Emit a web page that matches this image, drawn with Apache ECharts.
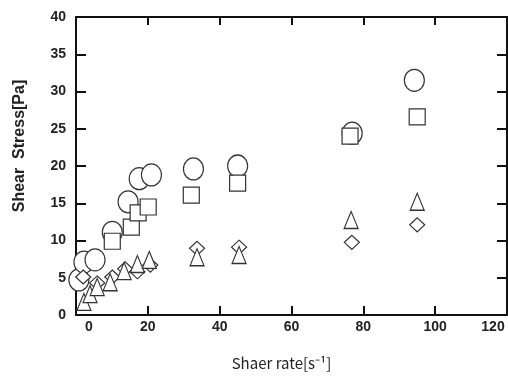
<!DOCTYPE html>
<html>
<head>
<meta charset="UTF-8">
<title>shear</title>
<script src="https://cdn.jsdelivr.net/npm/echarts@6/dist/echarts.min.js"></script>
<style>
  html, body { margin: 0; padding: 0; background: #fff; }
  #main { width: 508px; height: 377px; }
</style>
</head>
<body>
<div id="main"></div>
<script type="text/javascript">
    // [shear rate, shear stress]
    var circles = [[0.8, 4.7], [2.2, 7.1], [5.3, 7.4], [10.1, 11.1], [14.5, 15.2], [17.6, 18.3],
        [21.0, 18.8], [32.7, 19.6], [45.0, 20.0], [76.9, 24.4], [94.2, 31.5]];
    var squares = [[10.1, 9.9], [15.4, 11.8], [17.3, 13.7], [20.1, 14.5], [32.1, 16.1],
        [45.0, 17.7], [76.3, 24.0], [95.0, 26.6]];
    var diamonds = [[2.0, 5.1], [5.9, 4.3], [10.1, 5.1], [13.7, 6.2], [17.1, 5.8], [20.7, 6.7],
        [33.7, 8.95], [45.4, 9.1], [76.8, 9.75], [95.0, 12.1]];
    var triangles = [[2.2, 1.75], [3.9, 2.8], [5.9, 3.75], [9.5, 4.4], [13.4, 5.9], [17.1, 6.85],
        [20.4, 7.4], [33.7, 7.75], [45.4, 8.05], [76.6, 12.75], [95.0, 15.2]];

    var xTicks = [0, 20, 40, 60, 80, 100, 120];
    var yTicks = [0, 5, 10, 15, 20, 25, 30, 35, 40];

    var myChart = echarts.init(document.getElementById('main'));

    var lineStyle = {color: '#111', width: 2};
    var labelFont = {fontFamily: 'Liberation Sans', fontSize: 14, fontWeight: 'bold', color: '#222'};

    function marker(data, symbol, size) {
        return {
            type: 'scatter',
            data: data,
            symbol: symbol,
            symbolSize: size,
            itemStyle: {color: '#fff', borderColor: '#333', borderWidth: 1.2, opacity: 1}
        };
    }

    function frameAxis(pos, len) {
        // mirrored axis on the top / right, ticks pointing in, no labels
        return {
            type: 'value',
            position: pos,
            axisLine: {show: true, onZero: false, lineStyle: lineStyle},
            axisTick: {show: true, inside: true, length: len, lineStyle: lineStyle},
            axisLabel: {show: false},
            splitLine: {show: false}
        };
    }

    var xTop = frameAxis('top', 8);
    xTop.min = xTicks[0]; xTop.max = xTicks[xTicks.length - 1]; xTop.interval = 20;
    var yRight = frameAxis('right', 10);
    yRight.min = yTicks[0]; yRight.max = yTicks[yTicks.length - 1]; yRight.interval = 5;

    option = {
        backgroundColor: '#fff',
        animation: false,
        grid: {left: 76, right: 1, top: 17, bottom: 62},
        xAxis: [{
            type: 'value',
            min: xTicks[0],
            max: xTicks[xTicks.length - 1],
            interval: 20,
            position: 'bottom',
            name: 'Shaer rate[s\u207B\u00B9]',
            nameLocation: 'middle',
            nameGap: 41,
            nameTextStyle: {fontFamily: 'Noto Sans CJK JP', fontSize: 15, color: '#222', padding: [0, 20, 0, 0]},
            axisLine: {show: true, onZero: false, lineStyle: lineStyle},
            axisTick: {show: true, inside: true, length: 9, lineStyle: lineStyle},
            splitLine: {show: false},
            axisLabel: Object.assign({
                margin: 5,
                formatter: function (v) {
                    if (v === 0) return '{a|0}';
                    if (v === 120) return '{b|120}';
                    return v;
                },
                rich: {
                    a: Object.assign({padding: [0, 0, 0, 26]}, labelFont),
                    b: Object.assign({padding: [0, 28, 0, 0]}, labelFont)
                }
            }, labelFont)
        }, xTop],
        yAxis: [{
            type: 'value',
            min: yTicks[0],
            max: yTicks[yTicks.length - 1],
            interval: 5,
            position: 'left',
            name: 'Shear  Stress[Pa]',
            nameLocation: 'middle',
            nameGap: 48,
            nameTextStyle: {fontFamily: 'Liberation Sans', fontSize: 16, fontWeight: 'bold', color: '#222', padding: [0, 0, 0, 40]},
            axisLine: {show: true, onZero: false, lineStyle: lineStyle},
            axisTick: {show: true, inside: true, length: 10, lineStyle: lineStyle},
            splitLine: {show: false},
            axisLabel: Object.assign({margin: 10}, labelFont)
        }, yRight],
        series: [
            marker(circles, 'circle', [20, 22]),
            marker(squares, 'rect', 16),
            marker(diamonds, 'diamond', [15, 14]),
            marker(triangles, 'triangle', [14, 17])
        ]
    };
    myChart.setOption(option);
</script>
</body>
</html>
